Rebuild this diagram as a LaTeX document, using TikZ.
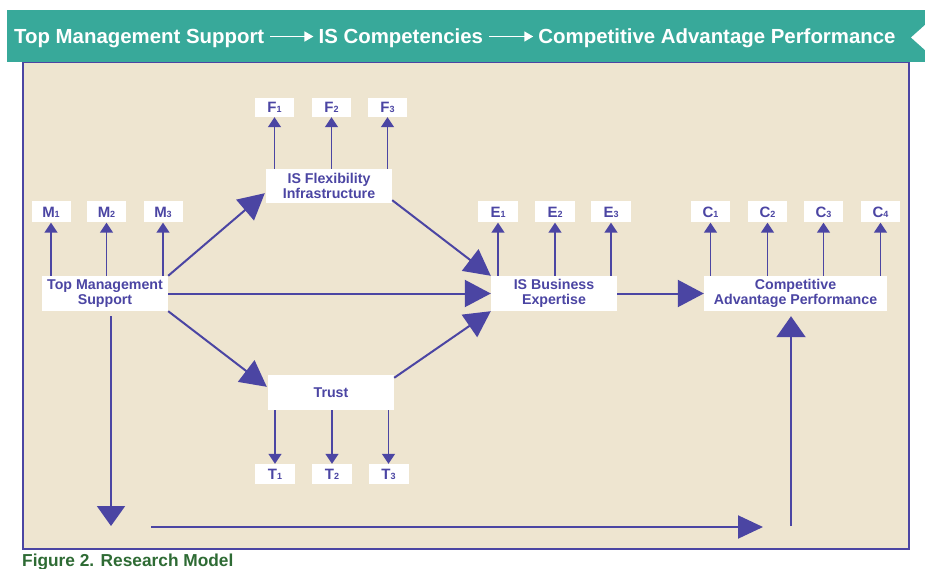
\documentclass[tikz,border=0pt]{standalone}
\usepackage{fontspec}
\setmainfont{Liberation Sans}
\usetikzlibrary{arrows.meta,calc}
\definecolor{teal1}{HTML}{38A99A}
\definecolor{beige}{HTML}{EEE5D0}
\definecolor{purp}{HTML}{4B45A3}
\definecolor{capgreen}{HTML}{2E6B34}
\newcommand{\sbx}[1]{{\fontsize{9}{9}\selectfont #1}}
\begin{document}
\begin{tikzpicture}[x=1pt,y=-1pt,
 box/.style={fill=white, inner sep=0pt, text=purp, font=\bfseries\fontsize{14.2}{14.5}\selectfont, align=center},
 lab/.style={fill=white, inner sep=0pt, minimum width=39pt, minimum height=21pt, text=purp, font=\bfseries\fontsize{15}{15}\selectfont},
 sarr/.style={draw=purp, line width=1.5pt, -{Triangle[length=10pt,width=13pt]}},
 barr/.style={draw=purp, line width=2pt, -{Triangle[length=26pt,width=27pt]}},
 harr/.style={draw=white, line width=1.6pt, -{Triangle[length=9pt,width=10pt]}},
 htxt/.style={text=white, font=\bfseries\fontsize{20.4}{20.4}\selectfont, inner sep=0pt, anchor=base west}]
\useasboundingbox (0,0) rectangle (925,569);
\fill[white] (0,0) rectangle (925,569);
\draw[draw=purp, fill=beige, line width=2pt] (23,62) rectangle (909,549);
\fill[teal1] (7,10) rectangle (925,62);
\fill[white] (925,25) -- (911,37.5) -- (925,50) -- cycle;
% header
\node[htxt] (h1) at (14,43.5) {Top Management Support};
\node[htxt] (h2) at ($(h1.base east)+(54,0)$) {IS Competencies};
\node[htxt] (h3) at ($(h2.base east)+(55,0)$) {Competitive Advantage Performance};
\draw[harr] ($(h1.base east)+(6,-7)$) -- ($(h2.base west)+(-5,-7)$);
\draw[harr] ($(h2.base east)+(6,-7)$) -- ($(h3.base west)+(-5,-7)$);
% main boxes
\node[box, minimum width=126pt, minimum height=35pt] (tms) at (105,293.5) {Top Management\\Support};
\node[box, minimum width=126pt, minimum height=34pt] (isf) at (329,186) {IS Flexibility\\Infrastructure};
\node[box, minimum width=126pt, minimum height=35pt] (isbe) at (554,293.5) {IS Business\\Expertise};
\node[box, minimum width=183pt, minimum height=35pt] (cap) at (795.5,293.5) {Competitive\\Advantage Performance};
\node[box, minimum width=126pt, minimum height=35pt] (trust) at (331,392.5) {Trust};
% labels
\node[lab] (m1) at (51,212) {M\sbx{1}};
\node[lab] (m2) at (106.5,212) {M\sbx{2}};
\node[lab] (m3) at (163,212) {M\sbx{3}};
\node[lab, minimum height=19pt] (f1) at (274.5,107.5) {F\sbx{1}};
\node[lab, minimum height=19pt] (f2) at (331.5,107.5) {F\sbx{2}};
\node[lab, minimum height=19pt] (f3) at (387.5,107.5) {F\sbx{3}};
\node[lab, minimum width=40pt] (e1) at (498,212) {E\sbx{1}};
\node[lab, minimum width=40pt] (e2) at (555,212) {E\sbx{2}};
\node[lab, minimum width=40pt] (e3) at (611,212) {E\sbx{3}};
\node[lab] (c1) at (710.5,212) {C\sbx{1}};
\node[lab] (c2) at (767.5,212) {C\sbx{2}};
\node[lab] (c3) at (823.5,212) {C\sbx{3}};
\node[lab] (c4) at (880.5,212) {C\sbx{4}};
\node[lab, minimum width=40pt, minimum height=20pt] (t1) at (275,474) {T\sbx{1}};
\node[lab, minimum width=40pt, minimum height=20pt] (t2) at (332,474) {T\sbx{2}};
\node[lab, minimum width=40pt, minimum height=20pt] (t3) at (388.5,474) {T\sbx{3}};
% small arrows
\foreach \n in {m1,m2,m3} \draw[sarr] (tms.north -| \n.south) -- (\n.south);
\foreach \n in {f1,f2,f3} \draw[sarr] (isf.north -| \n.south) -- (\n.south);
\foreach \n in {e1,e2,e3} \draw[sarr] (isbe.north -| \n.south) -- (\n.south);
\foreach \n in {c1,c2,c3,c4} \draw[sarr] (cap.north -| \n.south) -- (\n.south);
\foreach \n in {t1,t2,t3} \draw[sarr] (trust.south -| \n.north) -- (\n.north);
% big arrows
\draw[barr] (tms.north east) -- ($(isf.south west)+(-1,-10)$);
\draw[barr] ($(isf.south east)+(0,-3)$) -- (isbe.north west);
\draw[barr] (tms.east) -- (isbe.west);
\draw[barr] ($(trust.north east)+(0,3)$) -- (isbe.south west);
\draw[barr] (tms.south east) -- ($(trust.north west)+(-1,12)$);
\draw[barr] (isbe.east) -- (cap.west);
\coordinate (dn) at (111,526);
\coordinate (bl) at (151,527);
\coordinate (br) at (763,527);
\coordinate (up) at (791,526);
\draw[barr, -{Triangle[length=20pt,width=28pt]}] ($(tms.south -| dn)+(0,5)$) -- (dn);
\draw[barr, -{Triangle[length=25pt,width=23pt]}] (bl) -- (br);
\draw[barr, -{Triangle[length=21pt,width=29pt]}] (up) -- ($(cap.south -| up)+(0,5)$);
% caption
\node[anchor=base west, inner sep=0pt, text=capgreen, font=\bfseries\fontsize{17.3}{17.3}\selectfont] (capt) at (22,566) {Figure 2. Research Model};
\end{tikzpicture}
\end{document}
